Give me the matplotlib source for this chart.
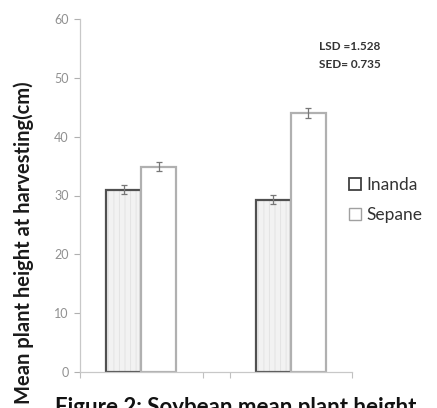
import numpy as np
import matplotlib
matplotlib.use("Agg")
import matplotlib.pyplot as plt
from matplotlib.patches import Patch

plt.rcParams["font.family"] = ["Lato", "DejaVu Sans"]
plt.rcParams["hatch.linewidth"] = 0.7

# data
varieties  = ["Inanda", "Sepane"]
inanda     = [31.0, 29.3]
sepane     = [34.9, 44.0]
inanda_err = [0.8, 0.8]
sepane_err = [0.8, 0.9]
group_pos  = [0.45, 1.55]
stats_text = ["LSD =1.528", "SED= 0.735"]

W, H = 437, 408
fig = plt.figure(figsize=(W / 100, H / 100), dpi=100)
ax = fig.add_axes([80 / W, (H - 372) / H, (352 - 80) / W, (372 - 19) / H])

bw = 0.257
x = np.array(group_pos)
err_style = dict(ecolor="#777777", elinewidth=0.9, capsize=2.5, capthick=0.9)
# faint stripe texture first, then the dark outline on top
ax.bar(x - bw / 2, inanda, bw, color="#f2f2f2", edgecolor="#e3e3e3",
       linewidth=0, hatch="|||")
ax.bar(x - bw / 2, inanda, bw, yerr=inanda_err, fill=False,
       edgecolor="#505050", linewidth=1.6, error_kw=err_style)
ax.bar(x + bw / 2, sepane, bw, yerr=sepane_err, color="white",
       edgecolor="#b0b0b0", linewidth=1.6, error_kw=err_style)

ax.set_xlim(0, 2)
ax.set_ylim(0, 60)
ax.set_yticks(range(0, 61, 10))
ax.set_xticks([0, 0.904, 1.103, 2])
ax.set_xticklabels([])
ax.tick_params(axis="y", colors="#b0b0b0", labelcolor="#909090", labelsize=9,
               length=4, width=0.8, pad=4)
ax.tick_params(axis="x", colors="#c0c0c0", length=4, width=0.8)
for s in ["top", "right"]:
    ax.spines[s].set_visible(False)
for s in ["left", "bottom"]:
    ax.spines[s].set_color("#c8c8c8")
    ax.spines[s].set_linewidth(0.9)

# label centre sits low, around pixel row 243 from the top
fig.text(24 / W, (H - 243) / H, "Mean plant height at harvesting(cm)", rotation=90,
         ha="center", va="center", fontsize=14.5, fontweight="bold", color="#1a1a1a")

for i, t in enumerate(stats_text):
    fig.text(319 / W, (H - 46 - 18 * i) / H, t, ha="left", va="center",
             fontsize=8.5, fontweight="bold", color="#333333")

handles = [Patch(facecolor="white", edgecolor="#404040", linewidth=1.3),
           Patch(facecolor="white", edgecolor="#a0a0a0", linewidth=1.0)]
fig.legend(handles, varieties, loc="center left", bbox_to_anchor=(333 / W, (H - 200) / H),
           frameon=False, fontsize=12.5, labelcolor="#333333", handlelength=0.7,
           handleheight=0.7, handletextpad=0.35, labelspacing=0.8)

fig.text(55 / W, -6 / H, "Figure 2: Soybean mean plant height", ha="left", va="baseline",
         fontsize=16, fontweight="bold", color="#111111")

fig.savefig("out.png", dpi=100)
